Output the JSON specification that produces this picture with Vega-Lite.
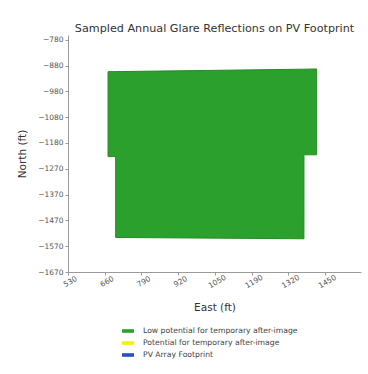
{
  "$schema": "https://vega.github.io/schema/vega-lite/v6.json",
  "width": 293,
  "height": 237,
  "autosize": {"type": "none"},
  "padding": {"left": 68, "top": 35, "right": 7, "bottom": 102},
  "background": "white",
  "config": {
    "font": "DejaVu Sans",
    "view": {"stroke": null},
    "axis": {
      "grid": false,
      "domainColor": "#9a9a9a",
      "tickColor": "#9a9a9a",
      "tickSize": 3,
      "labelFontSize": 7.5,
      "labelColor": "#555555",
      "titleFontSize": 10.5,
      "titleFontWeight": "normal",
      "titleColor": "#333333"
    }
  },
  "title": {
    "text": "Sampled Annual Glare Reflections on PV Footprint",
    "fontSize": 11.2,
    "fontWeight": "normal",
    "color": "#333333",
    "offset": 1,
    "anchor": "middle"
  },
  "data": {
    "values": [
      {"east": 672.8, "top": -902.5, "bottom": -1227.8, "cat": "Low potential for temporary after-image"},
      {"east": 699.9, "top": -902.3, "bottom": -1227.8, "cat": "Low potential for temporary after-image"},
      {"east": 700.0, "top": -902.3, "bottom": -1537.7, "cat": "Low potential for temporary after-image"},
      {"east": 1371.5, "top": -893.0, "bottom": -1542.7, "cat": "Low potential for temporary after-image"},
      {"east": 1371.6, "top": -893.0, "bottom": -1221.0, "cat": "Low potential for temporary after-image"},
      {"east": 1416.8, "top": -892.0, "bottom": -1221.0, "cat": "Low potential for temporary after-image"}
    ]
  },
  "mark": {"type": "area", "stroke": "#248c24", "strokeWidth": 1, "opacity": 1, "interpolate": "linear"},
  "encoding": {
    "x": {
      "field": "east",
      "type": "quantitative",
      "title": "East (ft)",
      "scale": {"domain": [530, 1575], "nice": false, "zero": false},
      "axis": {
        "values": [530, 661, 792, 923, 1054, 1185, 1316, 1447],
        "labelExpr": "format(round(datum.value/10)*10, 'd')",
        "labelAngle": -30,
        "labelAlign": "center",
        "labelBaseline": "top",
        "labelPadding": 3,
        "titlePadding": 13
      }
    },
    "y": {
      "field": "top",
      "type": "quantitative",
      "title": "North (ft)",
      "scale": {"domain": [-1670, -762], "nice": false, "zero": false},
      "axis": {
        "values": [-780, -878.89, -977.78, -1076.67, -1175.56, -1274.44, -1373.33, -1472.22, -1571.11, -1670],
        "labelExpr": "format(round(datum.value/10)*10, 'd')",
        "labelPadding": 2,
        "titlePadding": 10
      }
    },
    "y2": {"field": "bottom"},
    "color": {
      "field": "cat",
      "type": "nominal",
      "scale": {
        "domain": ["Low potential for temporary after-image", "Potential for temporary after-image", "PV Array Footprint"],
        "range": ["#2ca02c", "#f2f20a", "#2450c8"]
      },
      "legend": {
        "title": null,
        "orient": "none",
        "legendX": 54,
        "legendY": 290,
        "symbolType": "M-1,-0.3H1V0.3H-1Z",
        "symbolSize": 144,
        "symbolStrokeWidth": 0,
        "labelOffset": 9,
        "labelFontSize": 7.7,
        "labelColor": "#444444",
        "rowPadding": 2,
        "symbolOpacity": 1
      }
    }
  }
}
